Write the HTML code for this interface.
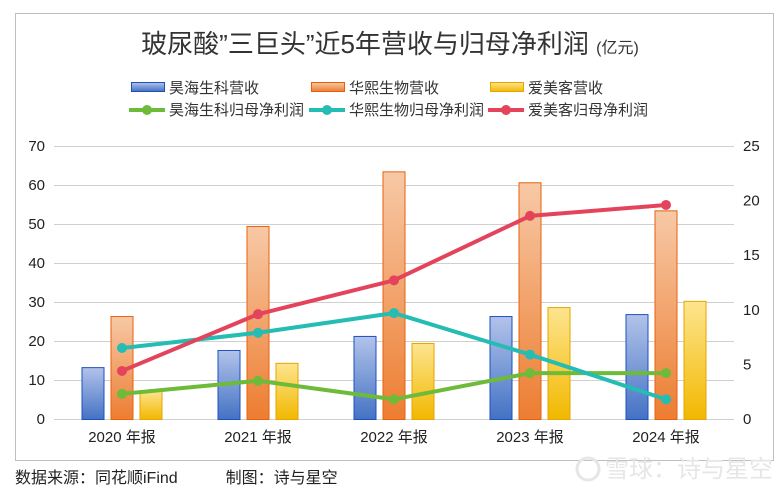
<!DOCTYPE html>
<html><head><meta charset="utf-8">
<style>
body{margin:0;background:#fff;width:784px;height:495px;overflow:hidden;font-family:"Liberation Sans","Noto Sans CJK SC",sans-serif;}
svg{display:block}
</style></head><body>
<svg id="chart" width="784" height="495">
<defs>
<linearGradient id="gBlue" x1="0" y1="0" x2="0" y2="1"><stop offset="0" stop-color="#b2c3ea"/><stop offset="1" stop-color="#4472c4"/></linearGradient>
<linearGradient id="gOrange" x1="0" y1="0" x2="0" y2="1"><stop offset="0" stop-color="#f7c9a6"/><stop offset="1" stop-color="#ed7d31"/></linearGradient>
<linearGradient id="gYellow" x1="0" y1="0" x2="0" y2="1"><stop offset="0" stop-color="#fde58f"/><stop offset="1" stop-color="#f2b800"/></linearGradient>
</defs>
<rect x="15.5" y="13.5" width="758" height="447" fill="#fff" stroke="#bfbfbf"/>
<text x="390" y="53" text-anchor="middle" font-size="26" fill="#333">玻尿酸”三巨头”近5年营收与归母净利润 <tspan font-size="16">(亿元)</tspan></text>
<g id="legend" font-size="15" fill="#333"></g>
<g id="grid"></g><g id="bars"></g><g id="lines"></g><g id="axes" font-size="15" fill="#222"></g>
<text x="15" y="483" font-size="16" fill="#222">数据来源：同花顺iFind　　　制图：诗与星空</text>
<text x="605" y="477" font-size="24" fill="#e6e6e6">雪球：诗与星空</text>
<circle cx="588" cy="469" r="11" fill="none" stroke="#e6e6e6" stroke-width="3"/>
</svg>
<script>
const categories=["2020 年报","2021 年报","2022 年报","2023 年报","2024 年报"];
const barNames=["昊海生科营收","华熙生物营收","爱美客营收"];
const haohaiRev=[13.3,17.7,21.3,26.4,26.9];
const huaxiRev=[26.4,49.5,63.5,60.7,53.5];
const aimeikeRev=[7.4,14.4,19.5,28.7,30.3];
const lineNames=["昊海生科归母净利润","华熙生物归母净利润","爱美客归母净利润"];
const haohaiProfit=[2.3,3.5,1.8,4.2,4.2];
const huaxiProfit=[6.5,7.9,9.7,5.9,1.8];
const aimeikeProfit=[4.4,9.6,12.7,18.6,19.6];
const leftTicks=[0,10,20,30,40,50,60,70];
const rightTicks=[0,5,10,15,20,25];

const NS="http://www.w3.org/2000/svg";
const X0=54,X1=734,Y0=419,Y1=146;
const band=(X1-X0)/categories.length;
const yL=v=>Y0-(v/70)*(Y0-Y1);
const yR=v=>Y0-(v/25)*(Y0-Y1);
const xC=i=>X0+band*(i+0.5);
function mk(tag,attrs,parent){const e=document.createElementNS(NS,tag);for(const k in attrs)e.setAttribute(k,attrs[k]);document.getElementById(parent).appendChild(e);return e;}

leftTicks.forEach(t=>{
  const l=mk("line",{x1:X0,x2:X1,y1:yL(t)+0.5,y2:yL(t)+0.5,stroke:"#d0d0d0"},"grid");
  
  
  const tx=mk("text",{x:45,y:yL(t)+5,"text-anchor":"end"},"axes");tx.textContent=t;
  
  
});
rightTicks.forEach(t=>{
  const tx=mk("text",{x:743,y:yR(t)+5,"text-anchor":"start"},"axes");tx.textContent=t;
  
  
});
categories.forEach((c,i)=>{
  const tx=mk("text",{x:xC(i),y:442,"text-anchor":"middle"},"axes");tx.textContent=c;
  
  
});
const barSeries=[[haohaiRev,"url(#gBlue)","#1f4fbf"],[huaxiRev,"url(#gOrange)","#e8600e"],[aimeikeRev,"url(#gYellow)","#e6a500"]];
const bw=23,gap=6;
barSeries.forEach((s,j)=>{
  s[0].forEach((v,i)=>{
    const x=xC(i)-bw/2+(j-1)*(bw+gap);
    const r=mk("rect",{x:x+0.5,y:yL(v)+0.5,width:bw-1,height:Y0-yL(v),fill:s[1],stroke:s[2],"stroke-width":1},"bars");
    
    
  });
});
const lineSeries=[[haohaiProfit,"#6ebb3a"],[huaxiProfit,"#25bcb4"],[aimeikeProfit,"#e3445c"]];
lineSeries.forEach(s=>{
  const p=mk("polyline",{points:s[0].map((v,i)=>xC(i)+","+yR(v)).join(" "),fill:"none",stroke:s[1],"stroke-width":4,"stroke-linejoin":"round"},"lines");
  
  
  s[0].forEach((v,i)=>{
    const c=mk("circle",{cx:xC(i),cy:yR(v),r:5,fill:s[1]},"lines");
    
    
  });
});
// legend
const lx=[131,311,490];
barNames.forEach((n,j)=>{
  const r=mk("rect",{x:lx[j]+0.5,y:82.5,width:33,height:9,fill:barSeries[j][1],stroke:barSeries[j][2]},"legend");
  
  
  const t=mk("text",{x:lx[j]+38,y:93},"legend");t.textContent=n;
  
  
});
lineNames.forEach((n,j)=>{
  const l=mk("line",{x1:lx[j]-2,x2:lx[j]+34,y1:110,y2:110,stroke:lineSeries[j][1],"stroke-width":4},"legend");
  
  
  const c=mk("circle",{cx:lx[j]+16,cy:110,r:5,fill:lineSeries[j][1]},"legend");
  
  
  const t=mk("text",{x:lx[j]+38,y:115},"legend");t.textContent=n;
  
  
});
</script>
</body></html>
